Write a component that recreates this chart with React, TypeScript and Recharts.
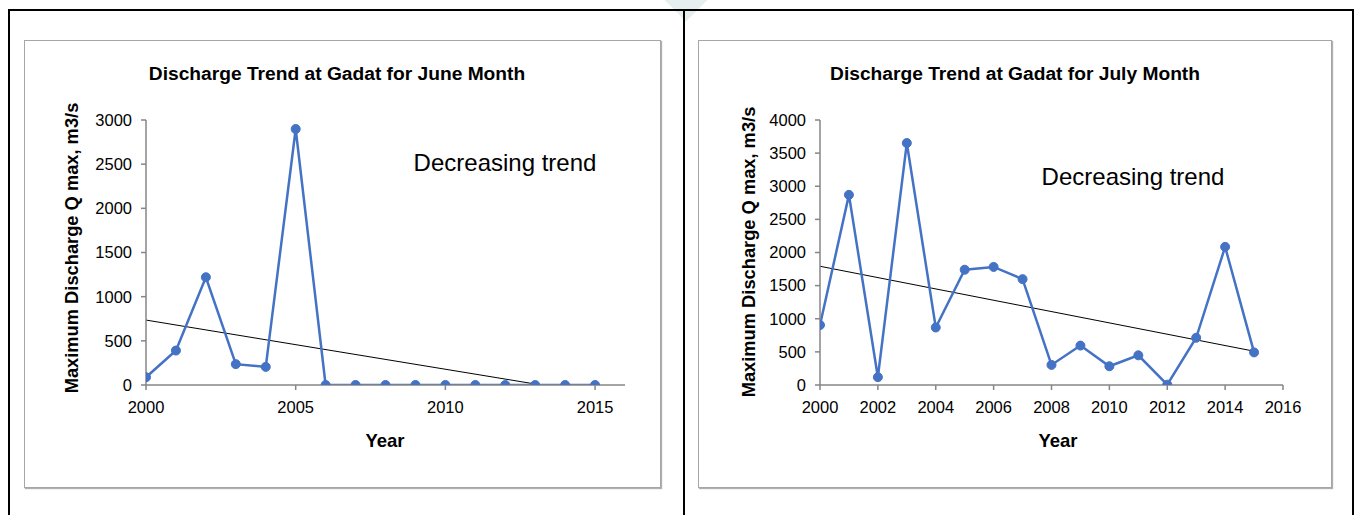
import React from "react";
import { LineChart, Line, XAxis, YAxis } from "recharts";

// ---- Data ----
const juneYears = [2000, 2001, 2002, 2003, 2004, 2005, 2006, 2007, 2008, 2009, 2010, 2011, 2012, 2013, 2014, 2015];
const juneQmax = [88, 390, 1220, 236, 205, 2898, 0, 0, 0, 0, 0, 0, 0, 0, 0, 0];
const juneTrendYears = [2000, 2015];
const juneTrendValues = [735, -100];
const juneXTicks = [2000, 2005, 2010, 2015];
const juneYTicks = [0, 500, 1000, 1500, 2000, 2500, 3000];

const julyYears = [2000, 2001, 2002, 2003, 2004, 2005, 2006, 2007, 2008, 2009, 2010, 2011, 2012, 2013, 2014, 2015];
const julyQmax = [905, 2870, 118, 3652, 868, 1740, 1782, 1598, 303, 595, 283, 448, 5, 713, 2085, 492];
const julyTrendYears = [2000, 2015];
const julyTrendValues = [1792, 510];
const julyXTicks = [2000, 2002, 2004, 2006, 2008, 2010, 2012, 2014, 2016];
const julyYTicks = [0, 500, 1000, 1500, 2000, 2500, 3000, 3500, 4000];

const juneTitle = "Discharge Trend at Gadat for June Month";
const julyTitle = "Discharge Trend at Gadat for July Month";
const yLabel = "Maximum Discharge Q max, m3/s";
const xLabel = "Year";
const note = "Decreasing trend";

const FONT = "'Liberation Sans', Arial, sans-serif";
const BLUE = "#4472C4";
const AXIS = "#868686";

const toRows = (xs: number[], ys: number[]) => xs.map((x, i) => ({ year: x, q: ys[i] }));

type PanelProps = {
  left: number;
  width: number;
  margin: { top: number; right: number; left: number; bottom: number };
  rows: { year: number; q: number }[];
  trend: { year: number; q: number }[];
  xTicks: number[];
  yTicks: number[];
  yMax: number;
  title: string;
  titleX: number;
  yLabelX: number;
  yLabelY: number;
  xLabelX: number;
  noteX: number;
  noteY: number;
};

function Panel(p: PanelProps) {
  const abs: React.CSSProperties = { position: "absolute", whiteSpace: "nowrap", color: "#000", fontFamily: FONT };
  return (
    <>
      <div
        style={{
          position: "absolute",
          left: p.left,
          top: 40,
          width: p.width,
          height: 448,
          boxSizing: "border-box",
          border: "1px solid #a6a6a6",
          boxShadow: "1px 1px 1px #b0b0b0",
          background: "#fff",
        }}
      />
      <div style={{ position: "absolute", left: p.left, top: 40 }}>
        <LineChart width={p.width} height={447} margin={p.margin}>
          <XAxis
            xAxisId="main"
            dataKey="year"
            type="number"
            domain={[2000, 2016]}
            ticks={p.xTicks}
            allowDataOverflow
            height={30}
            tickSize={5}
            tickMargin={11}
            tick={{ fill: "#000", fontSize: 16.5, fontFamily: FONT }}
            axisLine={{ stroke: AXIS, strokeWidth: 1.5 }}
            tickLine={{ stroke: AXIS, strokeWidth: 1.5 }}
          />
          <XAxis
            xAxisId="top"
            orientation="top"
            dataKey="year"
            type="number"
            domain={[2000, 2016]}
            height={0}
            tick={false}
            tickLine={false}
            axisLine={{ stroke: AXIS, strokeWidth: 1.5 }}
          />
          <YAxis
            yAxisId="main"
            type="number"
            domain={[0, p.yMax]}
            ticks={p.yTicks}
            allowDataOverflow
            width={60}
            tickSize={5}
            tickMargin={9}
            tick={{ fill: "#000", fontSize: 16.5, fontFamily: FONT }}
            axisLine={{ stroke: AXIS, strokeWidth: 1.5 }}
            tickLine={{ stroke: AXIS, strokeWidth: 1.5 }}
          />
          <YAxis
            yAxisId="right"
            orientation="right"
            type="number"
            domain={[0, p.yMax]}
            width={0}
            tick={false}
            tickLine={false}
            axisLine={{ stroke: AXIS, strokeWidth: 1.5 }}
          />
          <Line
            xAxisId="main"
            yAxisId="main"
            data={p.trend}
            dataKey="q"
            stroke="#000"
            strokeWidth={1}
            dot={false}
            isAnimationActive={false}
          />
          <Line
            xAxisId="main"
            yAxisId="main"
            data={p.rows}
            dataKey="q"
            stroke={BLUE}
            strokeWidth={2.5}
            dot={{ r: 4.5, fill: BLUE, stroke: BLUE, strokeWidth: 1 }}
            isAnimationActive={false}
          />
        </LineChart>
      </div>
      <div style={{ ...abs, left: p.titleX, top: 74, transform: "translate(-50%,-50%)", fontWeight: 700, fontSize: 19.2 }}>
        {p.title}
      </div>
      <div
        style={{
          ...abs,
          left: p.yLabelX,
          top: p.yLabelY,
          transform: "translate(-50%,-50%) rotate(-90deg)",
          fontWeight: 700,
          fontSize: 18.3,
        }}
      >
        {yLabel}
      </div>
      <div style={{ ...abs, left: p.xLabelX, top: 441, transform: "translate(-50%,-50%)", fontWeight: 700, fontSize: 18.5 }}>
        {xLabel}
      </div>
      <div style={{ ...abs, left: p.noteX, top: p.noteY, transform: "translate(-50%,-50%)", fontSize: 24 }}>{note}</div>
    </>
  );
}

export default function App() {
  return (
    <div style={{ position: "fixed", left: 0, top: 0, width: 1354, height: 515, background: "#fff", overflow: "hidden" }}>
      {/* faint watermark */}
      <div
        style={{
          position: "absolute",
          left: 668,
          top: -22,
          width: 36,
          height: 36,
          background: "#e6eef0",
          transform: "rotate(45deg)",
        }}
      />
      {/* outer page frame */}
      <div
        style={{
          position: "absolute",
          left: 8,
          top: 9,
          width: 1346,
          height: 520,
          boxSizing: "border-box",
          borderLeft: "2px solid #000",
          borderTop: "2px solid #000",
          borderRight: "2px solid #000",
        }}
      />
      <div style={{ position: "absolute", left: 683, top: 9, width: 2, height: 520, background: "#000" }} />
      <Panel
        left={24}
        width={637}
        margin={{ top: 80, right: 36, left: 62, bottom: 72 }}
        rows={toRows(juneYears, juneQmax)}
        trend={toRows(juneTrendYears, juneTrendValues)}
        xTicks={juneXTicks}
        yTicks={juneYTicks}
        yMax={3000}
        title={juneTitle}
        titleX={337}
        yLabelX={72}
        yLabelY={248}
        xLabelX={385}
        noteX={505}
        noteY={163}
      />
      <Panel
        left={698}
        width={634}
        margin={{ top: 80, right: 49, left: 62, bottom: 72 }}
        rows={toRows(julyYears, julyQmax)}
        trend={toRows(julyTrendYears, julyTrendValues)}
        xTicks={julyXTicks}
        yTicks={julyYTicks}
        yMax={4000}
        title={julyTitle}
        titleX={1015}
        yLabelX={749}
        yLabelY={252}
        xLabelX={1058}
        noteX={1133}
        noteY={177}
      />
    </div>
  );
}
